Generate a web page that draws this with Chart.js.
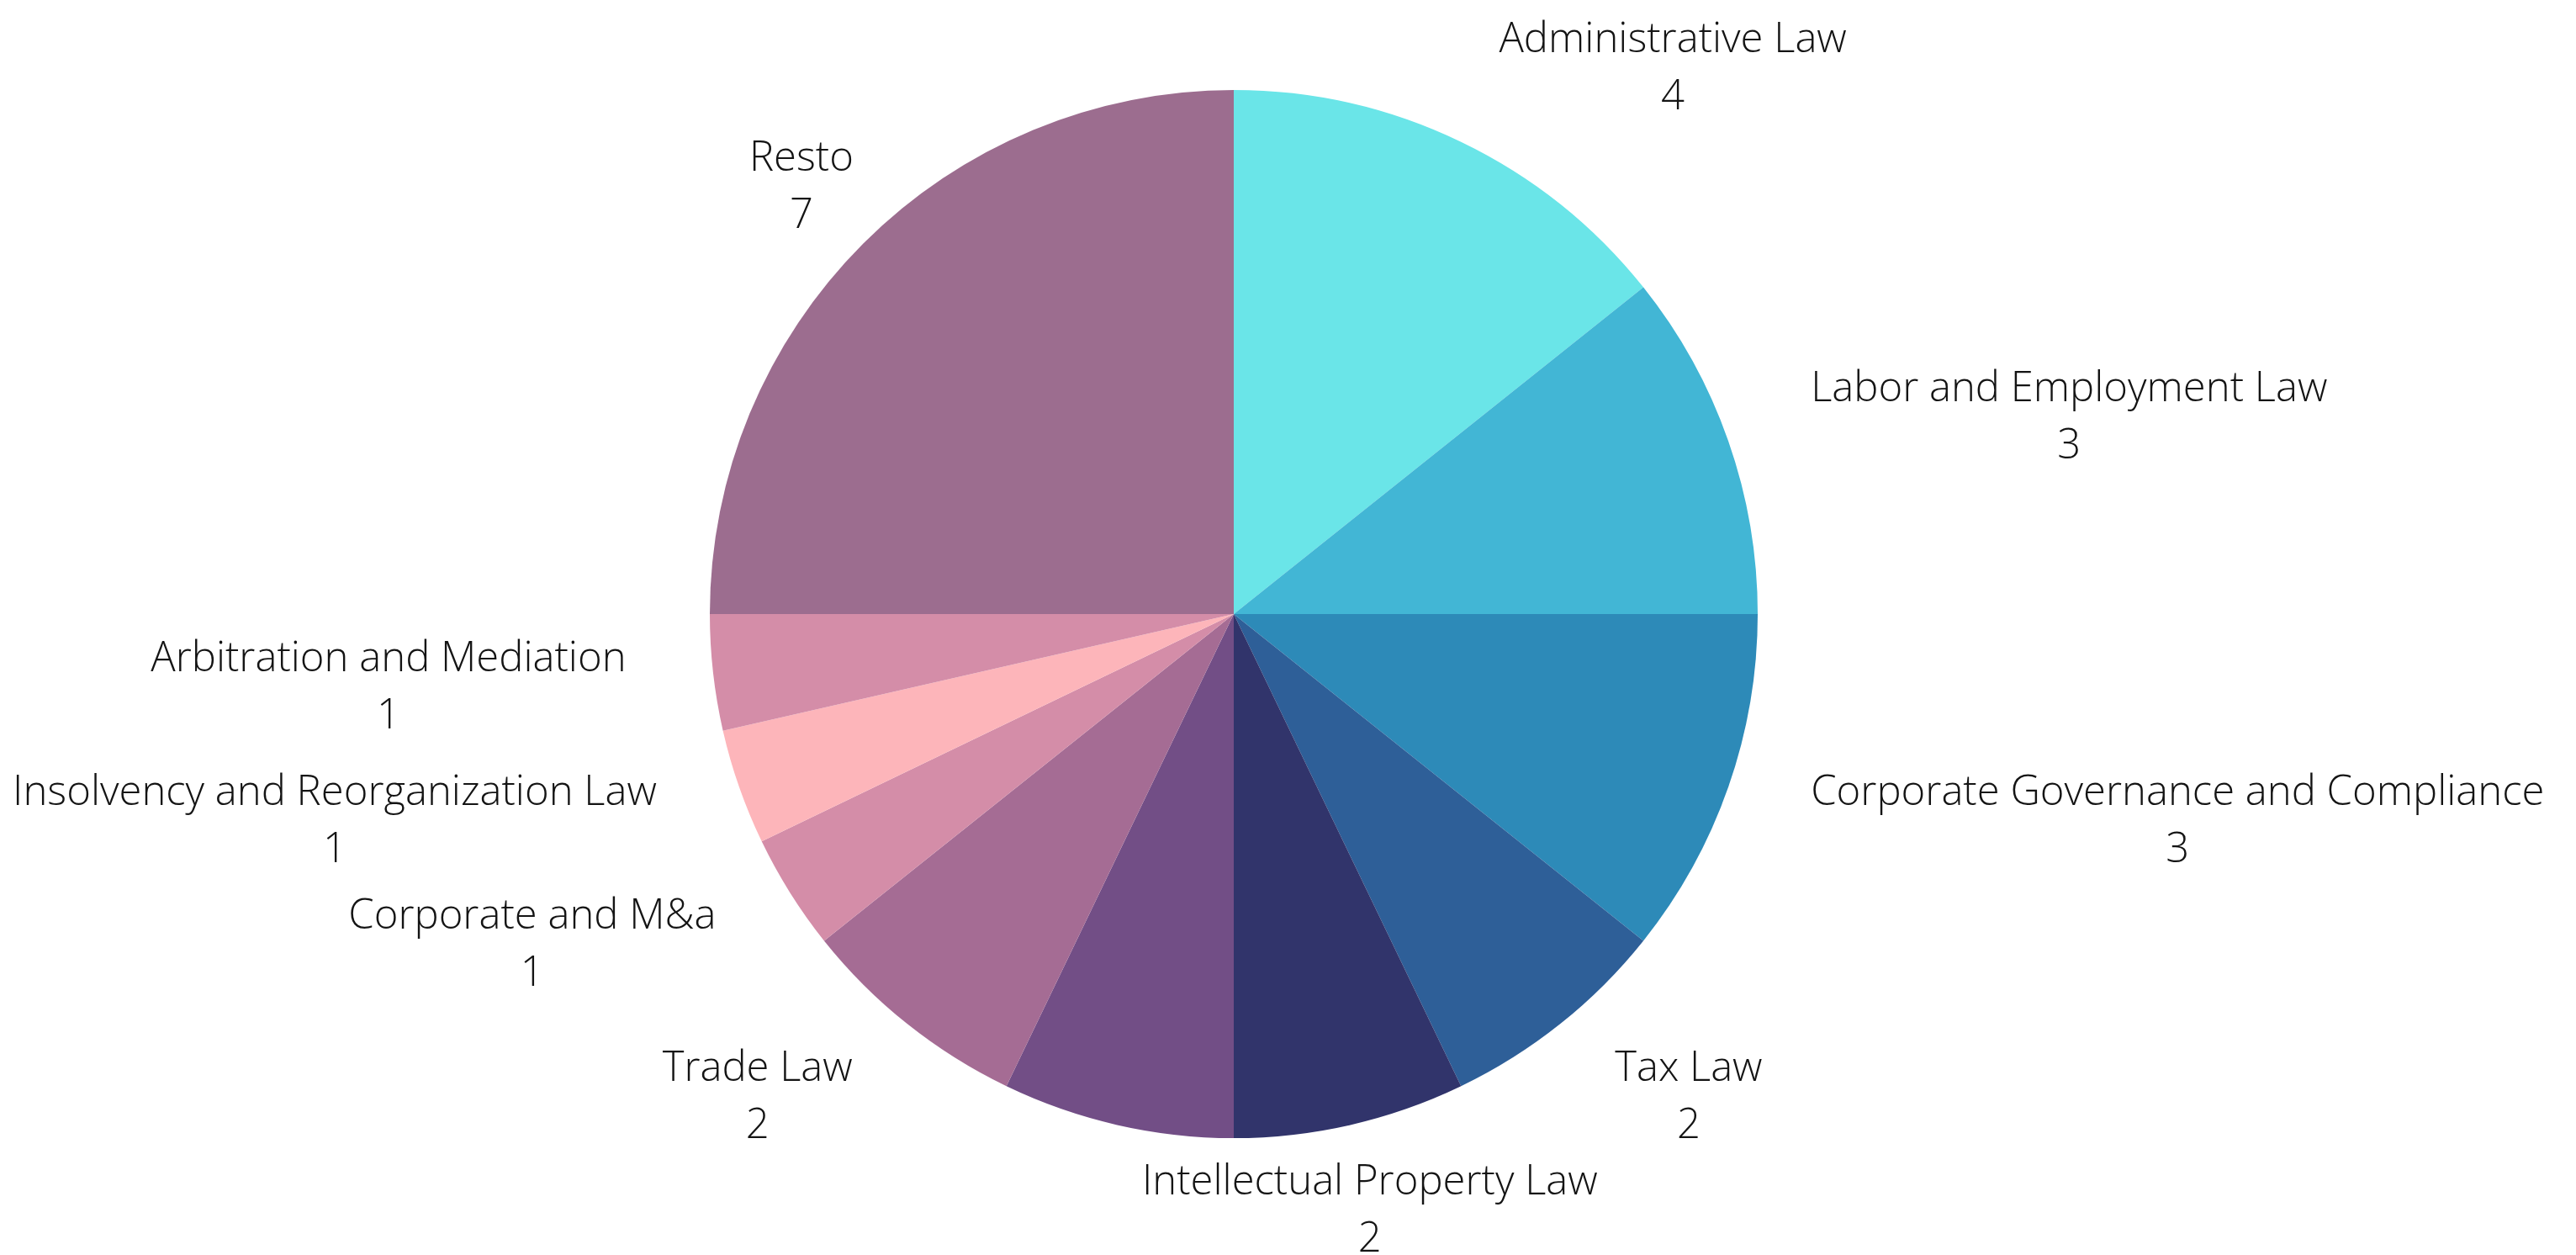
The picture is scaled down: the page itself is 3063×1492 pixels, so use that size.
<!DOCTYPE html>
<html>
<head>
<meta charset="utf-8">
<script src="https://cdn.jsdelivr.net/npm/chart.js@4.4.0/dist/chart.umd.min.js"></script>
<style>
  html, body { margin: 0; padding: 0; background: #ffffff; }
  #wrap { width: 3063px; height: 1492px; }
</style>
</head>
<body>
<div id="wrap"><canvas id="chart" width="3063" height="1492"></canvas></div>
<script>
// Practice areas and number of matters per area (the sixth slice carries no label)
const categories = [
  'Administrative Law',
  'Labor and Employment Law',
  'Corporate Governance and Compliance',
  'Tax Law',
  'Intellectual Property Law',
  '',
  'Trade Law',
  'Corporate and M&a',
  'Insolvency and Reorganization Law',
  'Arbitration and Mediation',
  'Resto'
];
const values = [4, 3, 3, 2, 2, 2, 2, 1, 1, 1, 7];
const sliceColors = [
  '#6AE5E8', '#42B6D5', '#2D8AB8', '#2E5F98', '#31346B', '#724E86',
  '#A56C94', '#D48DA8', '#FDB5BA', '#D48DA8', '#9C6D8F'
];
// how each outside label sits against its anchor point
const labelAnchor = ['start', 'start', 'start', 'start', 'middle', 'middle',
                     'end', 'end', 'end', 'end', 'middle'];

const LABEL_FONT = '300 49px "Open Sans"';
const LINE = 68;     // distance between the two label lines
const GAP = 104;     // distance of the anchor beyond the pie edge
const TEXT_DY = 7;   // optical centring of the two-line block
const EDGE = 18;     // room kept below the last text line

const outsideLabels = {
  id: 'outsideLabels',
  afterDatasetsDraw(chart) {
    const ctx = chart.ctx;
    const meta = chart.getDatasetMeta(0);
    ctx.save();
    ctx.font = LABEL_FONT;
    ctx.fillStyle = '#141414';
    ctx.textBaseline = 'middle';
    ctx.textAlign = 'center';
    meta.data.forEach((arc, i) => {
      const name = chart.data.labels[i];
      if (!name) return;
      const val = String(chart.data.datasets[0].data[i]);
      const p = arc.getProps(['x', 'y', 'outerRadius', 'startAngle', 'endAngle'], true);
      const a = (p.startAngle + p.endAngle) / 2;
      const d = p.outerRadius + GAP;
      const ax = p.x + d * Math.cos(a);
      let ay = p.y + d * Math.sin(a) + TEXT_DY;
      // keep the block inside the canvas
      ay = Math.min(ay, chart.height - LINE / 2 - EDGE);
      const w = Math.max(ctx.measureText(name).width, ctx.measureText(val).width);
      let cx = ax;
      if (labelAnchor[i] === 'start') cx = ax + w / 2;
      else if (labelAnchor[i] === 'end') cx = ax - w / 2;
      ctx.fillText(name, cx, ay - LINE / 2);
      ctx.fillText(val, cx, ay + LINE / 2);
    });
    ctx.restore();
  }
};

new Chart(document.getElementById('chart'), {
  type: 'pie',
  data: {
    labels: categories,
    datasets: [{
      data: values,
      backgroundColor: sliceColors,
      borderWidth: 0,
      hoverOffset: 0,
      offset: 0
    }]
  },
  options: {
    responsive: false,
    animation: false,
    layout: { padding: { top: 107, bottom: 139, left: 0, right: 129 } },
    plugins: {
      legend: { display: false },
      tooltip: { enabled: false },
      title: { display: false }
    }
  },
  plugins: [outsideLabels]
});
</script>
</body>
</html>
